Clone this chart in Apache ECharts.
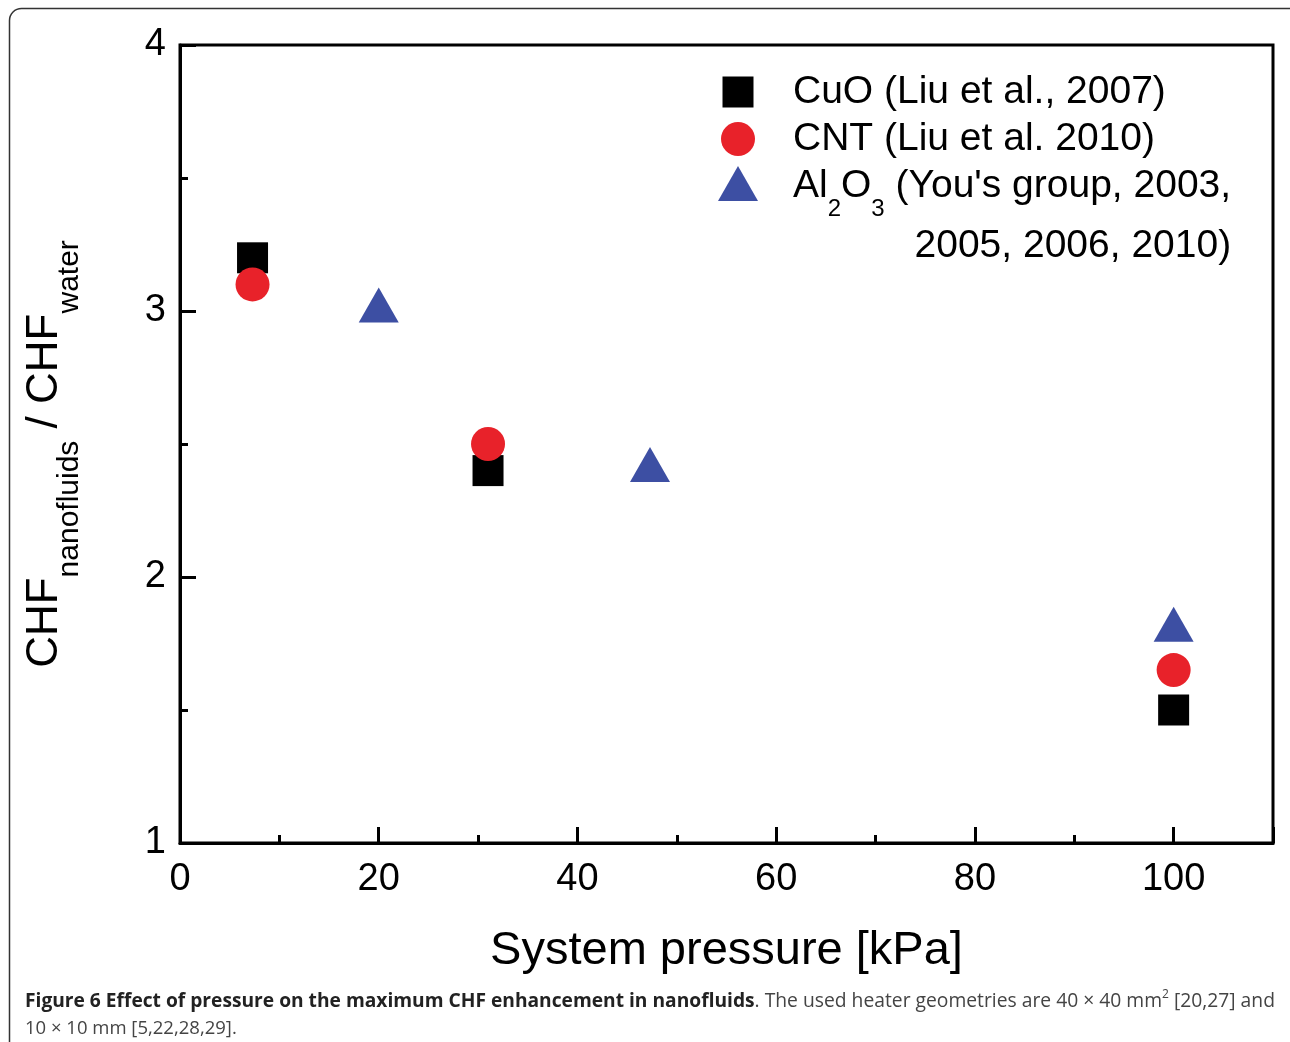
<!DOCTYPE html>
<html>
<head>
<meta charset="utf-8">
<script src="https://cdn.jsdelivr.net/npm/echarts@6/dist/echarts.min.js"></script>
<style>
    html, body { margin: 0; padding: 0; background: #fff; }
    #chart { width: 1290px; height: 1042px; }
</style>
</head>
<body>
<div id="chart"></div>
<script>
// system pressure [kPa] and CHF ratio
const cuoX = [7.3, 31, 100]
const cuoY = [3.2, 2.4, 1.5]
const cntX = [7.3, 31, 100]
const cntY = [3.1, 2.5, 1.65]
const al2o3X = [20, 47.3, 100]
const al2o3Y = [3.0, 2.4, 1.8]
const xTicks = [0, 20, 40, 60, 80, 100]
const yTicks = [1, 2, 3, 4]

const FONT = 'Liberation Sans, Arial, sans-serif'

function pairs(xs, ys) {
    return xs.map((x, i) => [x, ys[i]])
}

let chart = echarts.init(document.getElementById('chart'))

let option = {
    animation: false,
    textStyle: { fontFamily: FONT, color: '#000' },
    grid: {
        left: 180,
        right: 17,
        top: 45,
        bottom: 199,
        show: true,
        borderColor: '#000',
        borderWidth: 3
    },
    xAxis: [
        {
            type: 'value',
            min: 0,
            max: 110,
            interval: 20,
            name: 'System pressure [kPa]',
            nameLocation: 'middle',
            nameGap: 85,
            nameTextStyle: { fontSize: 47, color: '#000', fontFamily: FONT },
            axisLine: { lineStyle: { color: '#000', width: 3 } },
            axisTick: { inside: true, length: 16, lineStyle: { color: '#000', width: 3 } },
            axisLabel: {
                fontSize: 38,
                color: '#000',
                margin: 18,
                formatter: v => xTicks.indexOf(v) >= 0 ? String(v) : ''
            },
            splitLine: { show: false }
        },
        {
            // minor ticks every 10 kPa
            type: 'value',
            min: 0,
            max: 110,
            interval: 10,
            position: 'bottom',
            axisLine: { show: false },
            axisTick: { inside: true, length: 8, lineStyle: { color: '#000', width: 3 } },
            axisLabel: { show: false },
            splitLine: { show: false }
        }
    ],
    yAxis: {
        type: 'value',
        min: 1,
        max: 4,
        interval: 1,
        name: '{m|CHF}{s|nanofluids}{m| / CHF}{s|water}',
        nameLocation: 'middle',
        nameRotate: 90,
        nameGap: 95,
        nameTextStyle: {
            fontFamily: FONT,
            padding: [0, 20, 0, 0],
            rich: {
                m: { fontSize: 44, fontFamily: FONT, color: '#000', lineHeight: 80 },
                s: { fontSize: 30, fontFamily: FONT, color: '#000', lineHeight: 30, verticalAlign: 'bottom' }
            }
        },
        axisLine: { lineStyle: { color: '#000', width: 3 } },
        axisTick: { inside: true, length: 16, lineStyle: { color: '#000', width: 3 } },
        minorTick: { show: true, splitNumber: 2, length: 8, lineStyle: { color: '#000', width: 3 } },
        axisLabel: {
            fontSize: 38,
            color: '#000',
            margin: 14,
            formatter: v => yTicks.indexOf(v) >= 0 ? String(v) : ''
        },
        splitLine: { show: false }
    },
    legend: [
        {
            left: 722.5,
            top: 70,
            padding: 0,
            selectedMode: false,
            itemWidth: 31,
            itemHeight: 31,
            data: [{ name: 'CuO', icon: 'rect' }],
            formatter: () => 'CuO (Liu et al., 2007)',
            textStyle: { fontSize: 39, lineHeight: 44, color: '#000', fontFamily: FONT, padding: [0, 0, 0, 34.5] }
        },
        {
            left: 721,
            top: 117,
            padding: 0,
            selectedMode: false,
            itemWidth: 34,
            itemHeight: 34,
            data: [{ name: 'CNT', icon: 'circle' }],
            formatter: () => 'CNT (Liu et al. 2010)',
            textStyle: { fontSize: 39, lineHeight: 44, color: '#000', fontFamily: FONT, padding: [0, 0, 0, 33] }
        },
        {
            left: 718,
            top: 166,
            padding: 0,
            selectedMode: false,
            itemWidth: 40,
            itemHeight: 35,
            data: [{ name: 'Al2O3', icon: 'triangle' }],
            formatter: () => "{a|Al}{s|2}{a|O}{s|3}{a| (You's group, 2003,}\n{b|2005, 2006, 2010)}",
            textStyle: {
                fontFamily: FONT,
                padding: [56, 0, 0, 30],
                rich: {
                    a: { fontSize: 39, lineHeight: 69, color: '#000', fontFamily: FONT },
                    s: { fontSize: 24, lineHeight: 24, color: '#000', fontFamily: FONT, verticalAlign: 'bottom' },
                    b: { fontSize: 39, lineHeight: 50, color: '#000', fontFamily: FONT, align: 'right' }
                }
            }
        }
    ],
    graphic: [
        {
            type: 'rect',
            z: 100,
            shape: { x: 9.5, y: 8.5, width: 1320, height: 1100, r: 12 },
            style: { fill: 'none', stroke: '#333', lineWidth: 1.5 }
        },
        {
            type: 'text',
            left: 25,
            top: 989,
            style: {
                text: '{b|Figure 6 Effect of pressure on the maximum CHF enhancement in nanofluids}{r|. The used heater geometries are 40 × 40 mm}{sup|2}{r| [20,27] and}',
                rich: {
                    b: { fontFamily: 'Open Sans', fontSize: 19.2, fontWeight: 'bold', fill: '#222', lineHeight: 26 },
                    r: { fontFamily: 'Open Sans', fontSize: 19.3, fill: '#444', lineHeight: 26 },
                    sup: { fontFamily: 'Open Sans', fontSize: 12, fill: '#444', lineHeight: 26, verticalAlign: 'top' }
                }
            }
        },
        {
            type: 'text',
            left: 25,
            top: 1019,
            style: {
                text: '10 × 10 mm [5,22,28,29].',
                fontFamily: 'Open Sans',
                fontSize: 18.5,
                fill: '#444'
            }
        }
    ],
    series: [
        {
            name: 'CuO',
            type: 'scatter',
            symbol: 'rect',
            symbolSize: 31,
            itemStyle: { color: '#000', opacity: 1 },
            data: pairs(cuoX, cuoY)
        },
        {
            name: 'CNT',
            type: 'scatter',
            symbol: 'circle',
            symbolSize: 34,
            itemStyle: { color: '#e8222a', opacity: 1 },
            data: pairs(cntX, cntY)
        },
        {
            name: 'Al2O3',
            type: 'scatter',
            symbol: 'triangle',
            symbolSize: [40, 35],
            symbolOffset: [0, -6],
            itemStyle: { color: '#3d4fa3', opacity: 1 },
            data: pairs(al2o3X, al2o3Y)
        }
    ]
}

chart.setOption(option)
</script>
</body>
</html>
